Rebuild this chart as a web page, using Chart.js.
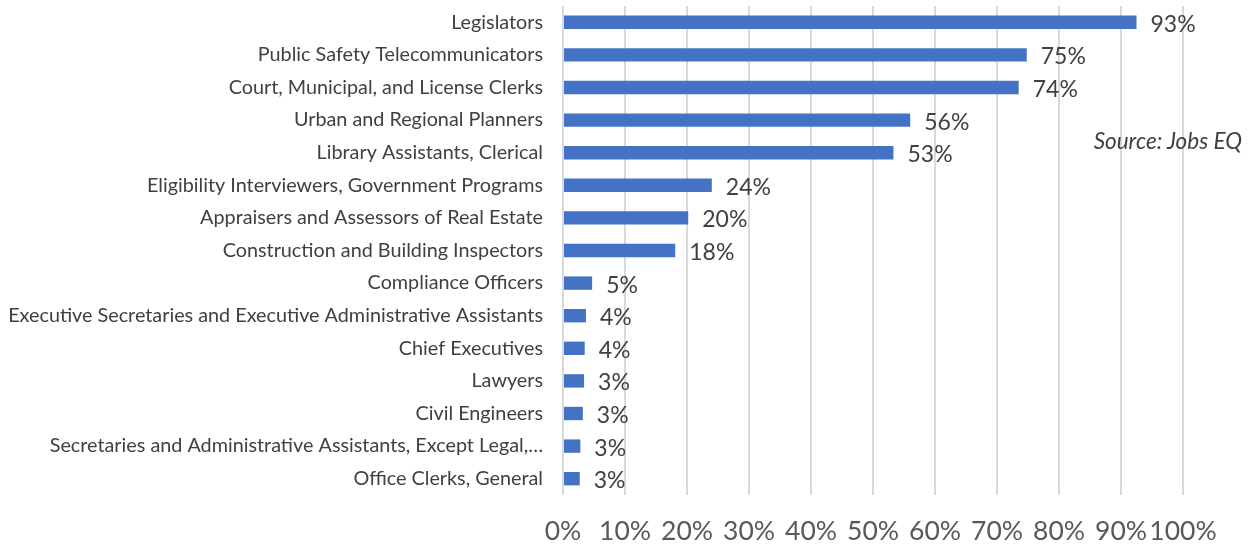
<!DOCTYPE html>
<html>
<head>
<meta charset="utf-8">
<script src="https://cdn.jsdelivr.net/npm/chart.js@4.4.0/dist/chart.umd.min.js"></script>
<style>
  html, body { margin: 0; padding: 0; background: #fff; }
  #wrap { position: relative; width: 1253px; height: 544px; }
  #source { position: absolute; right: 11px; top: 127px; font: italic 22.5px Lato, "Open Sans", sans-serif; color: #404040; }
</style>
</head>
<body>
<div id="wrap">
  <canvas id="myChart" width="1253" height="544"></canvas>
  <div id="source">Source: Jobs EQ</div>
</div>
<script>
let occupations = [
  "Legislators",
  "Public Safety Telecommunicators",
  "Court, Municipal, and License Clerks",
  "Urban and Regional Planners",
  "Library Assistants, Clerical",
  "Eligibility Interviewers, Government Programs",
  "Appraisers and Assessors of Real Estate",
  "Construction and Building Inspectors",
  "Compliance Officers",
  "Executive Secretaries and Executive Administrative Assistants",
  "Chief Executives",
  "Lawyers",
  "Civil Engineers",
  "Secretaries and Administrative Assistants, Except Legal,…",
  "Office Clerks, General"
]
let shares = [92.5, 74.8, 73.5, 56, 53.3, 24, 20.2, 18.1, 4.7, 3.7, 3.5, 3.4, 3.2, 2.8, 2.7]
let xTicks = [0, 10, 20, 30, 40, 50, 60, 70, 80, 90, 100]

const barLabels = {
  id: 'barLabels',
  afterDatasetsDraw(chart) {
    const ctx = chart.ctx
    const meta = chart.getDatasetMeta(0)
    ctx.save()
    ctx.font = '23px Lato, "Open Sans", sans-serif'
    ctx.fillStyle = '#404040'
    ctx.textBaseline = 'middle'
    meta.data.forEach((bar, i) => {
      ctx.fillText(Math.round(shares[i]) + '%', bar.x + 14, bar.y + 2)
    })
    ctx.restore()
  }
}

let myBarChart = document.getElementById("myChart").getContext('2d');
new Chart(myBarChart, {
    type: 'bar',
    data: {
        labels: occupations,
        datasets: [
            {
              label: "Share",
              backgroundColor: "#4472C4",
              data: shares,
              categoryPercentage: 1,
              barPercentage: 0.41
            }
          ]
        },
    plugins: [barLabels],
    options: {
        indexAxis: 'y',
        responsive: false,
        animation: false,
        layout: { padding: { top: 6, right: 70, left: 0, bottom: 0 } },
        plugins: {
            legend: { display: false },
            tooltip: { enabled: false }
        },
        scales: {
            x: {
                min: 0,
                max: 100,
                afterBuildTicks: (scale) => { scale.ticks = xTicks.map(v => ({ value: v })) },
                afterFit: (scale) => { scale.height = 49 },
                grid: { color: '#d9d9d9', lineWidth: 2, drawTicks: false },
                border: { display: false },
                ticks: {
                    padding: 21,
                    maxRotation: 0,
                    autoSkip: false,
                    color: '#595959',
                    font: { family: 'Lato, "Open Sans", sans-serif', size: 26.5 },
                    callback: (v) => v + '%'
                }
            },
            y: {
                afterFit: (scale) => {
                    scale.width = 563
                    scale.paddingTop = 0
                    scale.paddingBottom = 0
                },
                grid: { display: false, drawTicks: false },
                border: { display: false },
                ticks: {
                    padding: 20,
                    autoSkip: false,
                    color: '#404040',
                    font: { family: 'Lato, "Open Sans", sans-serif', size: 19.8 }
                }
            }
        }
    }
});
</script>
</body>
</html>
